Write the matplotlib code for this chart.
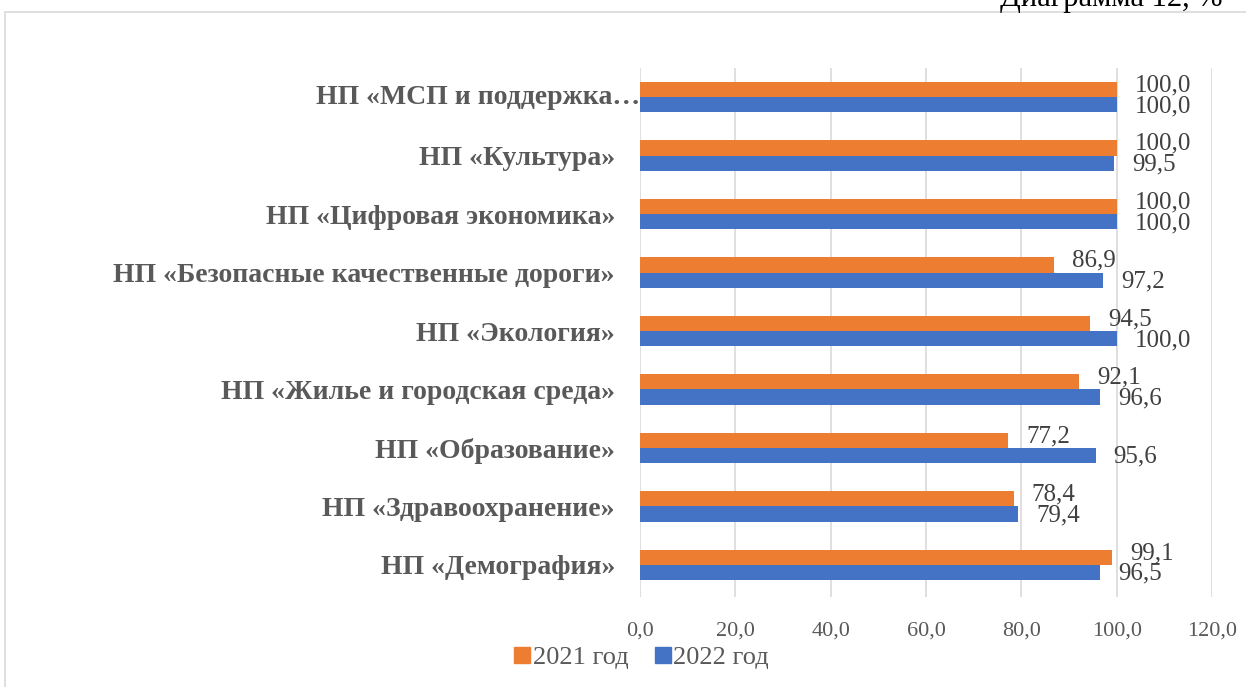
import numpy as np
import matplotlib
matplotlib.use("Agg")
import matplotlib.pyplot as plt
import matplotlib.transforms as mtransforms
from matplotlib.patches import Rectangle
from matplotlib.lines import Line2D

plt.rcParams['font.family'] = ['Liberation Serif', 'DejaVu Serif']

# categories bottom -> top
categories = [
    "НП «Демография»",
    "НП «Здравоохранение»",
    "НП «Образование»",
    "НП «Жилье и городская среда»",
    "НП «Экология»",
    "НП «Безопасные качественные дороги»",
    "НП «Цифровая экономика»",
    "НП «Культура»",
    "НП «МСП и поддержка…",
]
vals_2021 = [99.1, 78.4, 77.2, 92.1, 94.5, 86.9, 100.0, 100.0, 100.0]
vals_2022 = [96.5, 79.4, 95.6, 96.6, 100.0, 97.2, 100.0, 99.5, 100.0]
xticks = [0, 20, 40, 60, 80, 100, 120]

c2021 = "#ED7D31"
c2022 = "#4472C4"
grey = "#595959"

fig = plt.figure(figsize=(12.46, 6.87), dpi=100)
# outer chart frame
fig.patches.append(Rectangle((5/1246, -0.01), 1.1, 1 - 12/687 + 0.01, transform=fig.transFigure,
                             fill=False, edgecolor="#d9d9d9", linewidth=1.2))
fig.text(1000/1246, 1 - 6/687, "Диаграмма 12, %", fontsize=22, color="black",
         ha="left", va="baseline")

ax = fig.add_axes([640/1246, 1 - 597/687, 572/1246, 529/687])
y = np.arange(len(categories))
h = 0.26
ax.barh(y + h/2, vals_2021, height=h, color=c2021, label="2021 год", zorder=3)
ax.barh(y - h/2, vals_2022, height=h, color=c2022, label="2022 год", zorder=3)

for i in range(len(categories)):
    ax.annotate(("%.1f" % vals_2021[i]).replace(".", ","), (vals_2021[i], y[i] + h/2),
                xytext=(13, 3), textcoords="offset points", ha="left", va="center",
                fontsize=18, color="#404040")
    ax.annotate(("%.1f" % vals_2022[i]).replace(".", ","), (vals_2022[i], y[i] - h/2),
                xytext=(13, -1), textcoords="offset points", ha="left", va="center",
                fontsize=18, color="#404040")

ax.set_xlim(0, 120)
ax.set_ylim(-0.55, 8.5)
ax.set_xticks(xticks)
ax.set_xticklabels([("%.1f" % t).replace(".", ",") for t in xticks], fontsize=16, color=grey)
ax.set_yticks(y)
# last (truncated) label is drawn separately so it can reach the axis
ax.set_yticklabels(categories[:-1] + [""], fontsize=20, fontweight="bold", color=grey)
trans = mtransforms.blended_transform_factory(ax.transAxes, ax.transData)
ax.text(0.0, y[-1], categories[-1], transform=trans, ha="right", va="center",
        fontsize=20, fontweight="bold", color=grey)
ax.tick_params(axis="both", length=0)
ax.tick_params(axis="x", pad=18)
ax.tick_params(axis="y", pad=18)
ax.grid(axis="x", color="#d9d9d9", linewidth=1.2, zorder=0)
for s in ax.spines.values():
    s.set_visible(False)

handles = [Line2D([], [], marker="s", linestyle="", color=c2021, markersize=11),
           Line2D([], [], marker="s", linestyle="", color=c2022, markersize=11)]
fig.legend(handles, ["2021 год", "2022 год"], loc="center left",
           bbox_to_anchor=(472/1246, 1 - 657/687), ncol=2, frameon=False,
           fontsize=19, handletextpad=-0.6, columnspacing=0.3, labelcolor=grey)

fig.savefig("out.png", dpi=100)
